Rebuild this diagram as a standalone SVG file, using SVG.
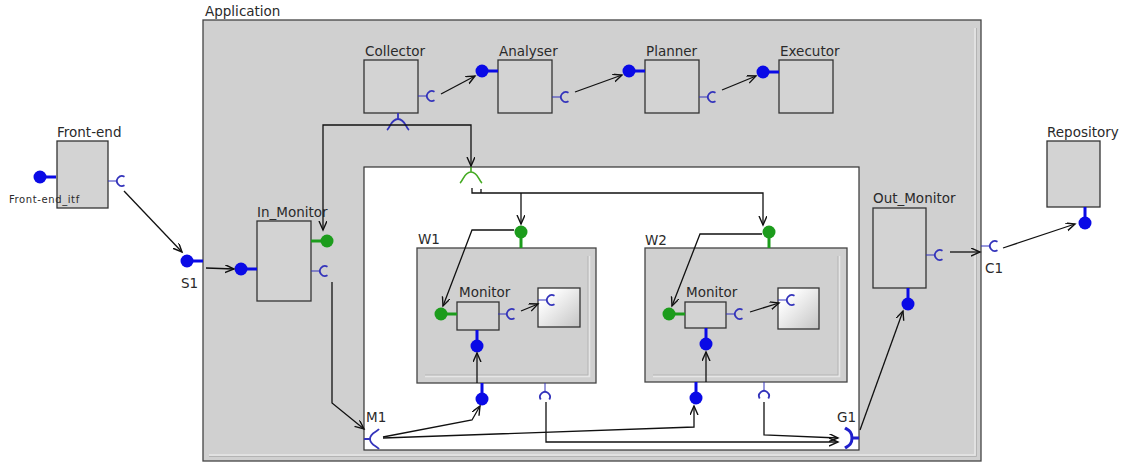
<svg xmlns="http://www.w3.org/2000/svg" xmlns:xlink="http://www.w3.org/1999/xlink" width="1123" height="463" viewBox="0 0 1123 463">
<style>
.lbl{font-family:"DejaVu Sans",sans-serif;font-size:13.5px;fill:#2a2a2a}
.sml{font-family:"DejaVu Sans",sans-serif;font-size:10px;letter-spacing:0.6px;fill:#2a2a2a}
.box{fill:#d3d3d3;stroke:#333;stroke-width:1.3}
.cont{fill:#d0d0d0;stroke:#444;stroke-width:1.3}
.hl{fill:none;stroke:#e6e6e6;stroke-width:1.5}
.hd{fill:none;stroke:#b4b4b4;stroke-width:1}
.conn{fill:none;stroke:#111;stroke-width:1.3;marker-end:url(#arr)}
.line{fill:none;stroke:#111;stroke-width:1.3}
.sock{fill:none;stroke:#3333bb;stroke-width:1.8}
.gsock{fill:none;stroke:#44aa22;stroke-width:1.6}
</style>
<defs>
<marker id="arr" markerUnits="userSpaceOnUse" markerWidth="12" markerHeight="10" refX="9" refY="4" orient="auto">
<path d="M0,0 L9,4 L0,8" fill="none" stroke="#111" stroke-width="1.4"/>
</marker>
<linearGradient id="wg" x1="0.2" y1="0.2" x2="1" y2="1">
<stop offset="0" stop-color="#ffffff"/>
<stop offset="1" stop-color="#c4c4c4"/>
</linearGradient>
<g id="lolB">
<line x1="0" y1="0" x2="16" y2="0" stroke="#0a0ae6" stroke-width="3"/>
<circle cx="0" cy="0" r="6.5" fill="#0a0ae6"/>
</g>
<g id="lolG">
<line x1="0" y1="0" x2="16" y2="0" stroke="#1c9c1c" stroke-width="3"/>
<circle cx="0" cy="0" r="6.5" fill="#1c9c1c"/>
</g>
<g id="sockC">
<line x1="-14" y1="0" x2="-5" y2="0" stroke="#3333bb" stroke-width="1"/>
<path d="M2.5,-4.3 A5,5 0 1 0 2.5,4.3" fill="none" stroke="#3333bb" stroke-width="1.8"/>
</g>
</defs>

<rect width="1123" height="463" fill="#ffffff"/>

<g id="Application">
<rect class="cont" x="203" y="20" width="778" height="441"/>
<path class="hl" d="M975,28 V455 H209"/>
<path class="hd" d="M976.5,28 V456.5 H209"/>
<text class="lbl" x="205" y="16">Application</text>
<use xlink:href="#lolB" transform="translate(187,261)"/>
<text class="lbl" x="181" y="288">S1</text>
<use xlink:href="#sockC" transform="translate(995,246)"/>
<text class="lbl" x="985" y="273">C1</text>
</g>

<g id="Front-end">
<rect class="box" x="57" y="141" width="51" height="67"/>
<text class="lbl" x="57" y="137">Front-end</text>
<use xlink:href="#lolB" transform="translate(40,177)"/>
<text class="sml" x="9" y="203">Front-end_itf</text>
<use xlink:href="#sockC" transform="translate(122,181)"/>
</g>

<g id="Repository">
<rect class="box" x="1047" y="141" width="53" height="66"/>
<text class="lbl" x="1047" y="137">Repository</text>
<use xlink:href="#lolB" transform="translate(1085,223) rotate(-90)"/>
</g>

<g id="Collector">
<rect class="box" x="364" y="60" width="54" height="53"/>
<text class="lbl" x="365" y="56">Collector</text>
<use xlink:href="#sockC" transform="translate(432,96)"/>
<path class="sock" d="M398,113 V119 M387,130 C390,128 391,119 398,119 C405,119 406,128 409,130" stroke-width="1.6"/>
</g>

<g id="Analyser">
<rect class="box" x="498" y="60" width="54" height="53"/>
<text class="lbl" x="499" y="56">Analyser</text>
<use xlink:href="#lolB" transform="translate(482,71)"/>
<use xlink:href="#sockC" transform="translate(566,97)"/>
</g>

<g id="Planner">
<rect class="box" x="645" y="60" width="54" height="53"/>
<text class="lbl" x="646" y="56">Planner</text>
<use xlink:href="#lolB" transform="translate(629,71)"/>
<use xlink:href="#sockC" transform="translate(713,97)"/>
</g>

<g id="Executor">
<rect class="box" x="779" y="60" width="54" height="53"/>
<text class="lbl" x="780" y="56">Executor</text>
<use xlink:href="#lolB" transform="translate(763,72)"/>
</g>

<g id="In_Monitor">
<rect class="box" x="257" y="221" width="54" height="80"/>
<text class="lbl" x="257" y="217">In_Monitor</text>
<use xlink:href="#lolB" transform="translate(241,269)"/>
<use xlink:href="#lolG" transform="translate(327,241) rotate(180)"/>
<use xlink:href="#sockC" transform="translate(325,271)"/>
</g>

<g id="Out_Monitor">
<rect class="box" x="873" y="208" width="53" height="80"/>
<text class="lbl" x="873" y="203">Out_Monitor</text>
<use xlink:href="#sockC" transform="translate(940,255)"/>
<use xlink:href="#lolB" transform="translate(908,304) rotate(-90)"/>
</g>

<g id="Workers">
<rect x="364" y="167" width="495" height="283" fill="#ffffff" stroke="#333" stroke-width="1.2"/>
<path class="gsock" d="M471,167 V172 M460,183 C463,181 464,172 471,172 C478,172 479,181 482,183"/>
<text class="lbl" x="366" y="422">M1</text>
<path class="sock" d="M364,439 H370 M379,429 C377,432 370,433 370,439 C370,445 377,446 379,449"/>
<text class="lbl" x="837" y="422">G1</text>
<path d="M859,438 H853 M845,428 C848,430 852,431 852,438 C852,445 848,446 845,448" fill="none" stroke="#2020cc" stroke-width="3"/>
</g>

<g id="W1">
<rect class="cont" x="417" y="248" width="179" height="135"/>
<path class="hd" d="M588,256 V375 H425"/>
<path class="hl" d="M589.5,256 V376.5 H425"/>
<text class="lbl" x="418" y="244">W1</text>
<use xlink:href="#lolG" transform="translate(521,232) rotate(90)"/>
<use xlink:href="#lolB" transform="translate(482,399) rotate(-90)"/>
<use xlink:href="#sockC" transform="translate(545,397) rotate(90)"/>
</g>

<g id="W1_Monitor">
<rect class="box" x="457" y="302" width="42" height="28"/>
<text class="lbl" x="459" y="297">Monitor</text>
<use xlink:href="#lolG" transform="translate(441,314)"/>
<use xlink:href="#sockC" transform="translate(512,314)"/>
<use xlink:href="#lolB" transform="translate(477,346) rotate(-90)"/>
</g>

<g id="W1_Part">
<rect x="538" y="288" width="42" height="39" fill="url(#wg)" stroke="#333" stroke-width="1.3"/>
<use xlink:href="#sockC" transform="translate(552,300)"/>
</g>

<g id="W2">
<rect class="cont" x="645" y="248" width="202" height="134"/>
<path class="hd" d="M838,256 V375 H653"/>
<path class="hl" d="M839.5,256 V376.5 H653"/>
<text class="lbl" x="645" y="245">W2</text>
<use xlink:href="#lolG" transform="translate(769,232) rotate(90)"/>
<use xlink:href="#lolB" transform="translate(696,398) rotate(-90)"/>
<use xlink:href="#sockC" transform="translate(764,396) rotate(90)"/>
</g>

<g id="W2_Monitor">
<rect class="box" x="685" y="302" width="41" height="26"/>
<text class="lbl" x="686" y="297">Monitor</text>
<use xlink:href="#lolG" transform="translate(669,314)"/>
<use xlink:href="#sockC" transform="translate(740,314)"/>
<use xlink:href="#lolB" transform="translate(706,344) rotate(-90)"/>
</g>

<g id="W2_Part">
<rect x="778" y="288" width="41" height="41" fill="url(#wg)" stroke="#333" stroke-width="1.3"/>
<use xlink:href="#sockC" transform="translate(792,300)"/>
</g>

<g id="connectors">
<path class="conn" d="M124,191 L182,252"/>
<path class="conn" d="M206,268 L234,269"/>
<path class="conn" d="M441,94 L475,76"/>
<path class="conn" d="M575,92 L622,75"/>
<path class="conn" d="M722,90 L756,76"/>
<path class="conn" d="M398,125 H323 V230"/>
<path class="conn" d="M398,125 H471 V166"/>
<path class="conn" d="M472,188 V193 H763 V225"/>
<path class="conn" d="M521,193 V224"/>
<path class="line" d="M481,189 V193"/>
<path class="conn" d="M514,230 H472 L443,306"/>
<path class="conn" d="M762,234 H700 L672,306"/>
<path class="conn" d="M521,311 L538,304"/>
<path class="conn" d="M750,312 L779,303"/>
<path class="conn" d="M477,383 V353"/>
<path class="conn" d="M706,382 V352"/>
<path class="conn" d="M332,282 V403 L364,429"/>
<path class="conn" d="M383,437 L472,420 L480,406"/>
<path class="conn" d="M383,438 L694,427 V406"/>
<path class="conn" d="M546,402 V442 H838"/>
<path class="conn" d="M764,402 V435 L838,438"/>
<path class="conn" d="M860,430 L903,311"/>
<path class="conn" d="M950,252 L980,252"/>
<path class="conn" d="M1003,248 L1075,224"/>
</g>
</svg>
